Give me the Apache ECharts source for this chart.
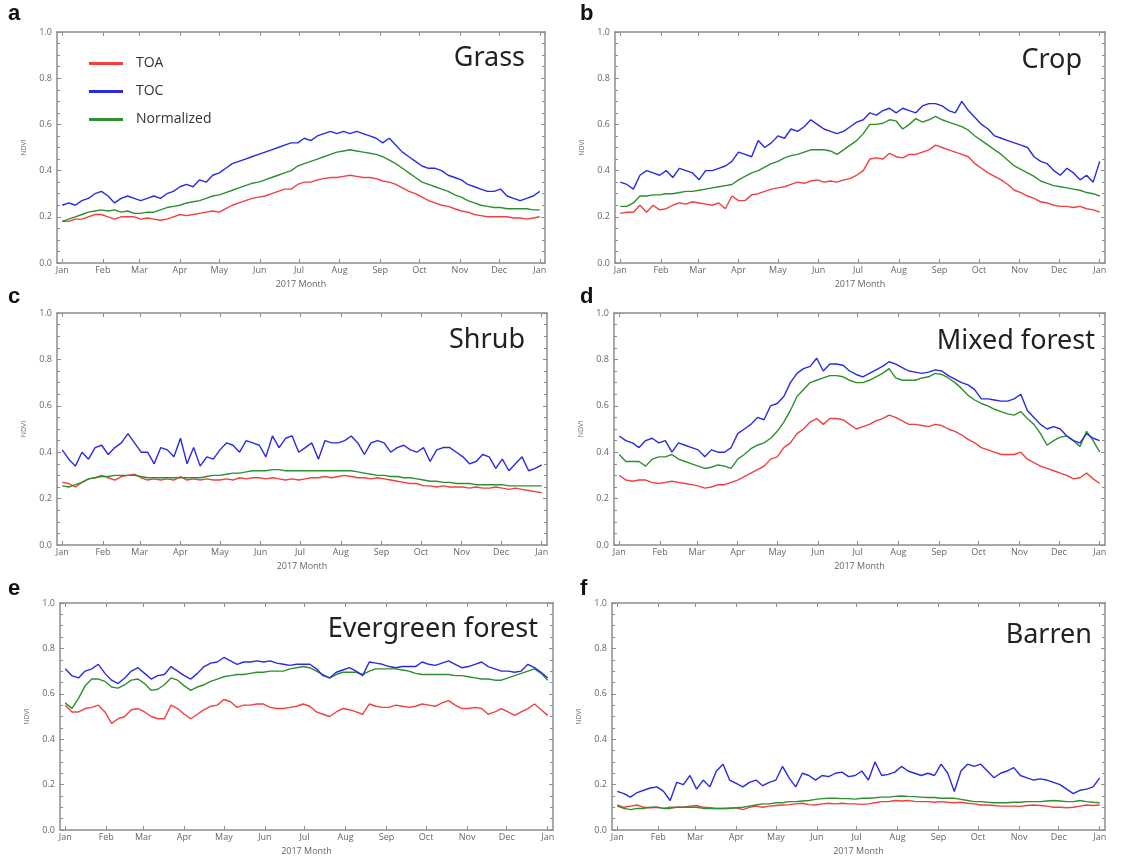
<!DOCTYPE html>
<html lang="en" style="height: 100%">
<head>
  <meta charset="utf-8">
</head>
<body style="height: 100%; margin: 0; background: #fff">
  <div id="container" style="width: 1122px; height: 857px"></div>

  <script type="text/javascript" src="https://cdn.jsdelivr.net/npm/echarts@6/dist/echarts.min.js"></script>

  <script type="text/javascript">
    var dom = document.getElementById('container');
    var myChart = echarts.init(dom, null, { renderer: 'canvas' });

    // month ticks (day of year) and their labels
    const monthDays = [0, 31, 59, 90, 120, 151, 181, 212, 243, 273, 304, 334, 365];
    const monthLabels = ['Jan', 'Feb', 'Mar', 'Apr', 'May', 'Jun', 'Jul', 'Aug', 'Sep', 'Oct', 'Nov', 'Dec', 'Jan'];
    const yTicks = [0.0, 0.2, 0.4, 0.6, 0.8, 1.0];
    const xName = '2017 Month';
    const yName = 'NDVI';
    const seriesNames = ['TOA', 'TOC', 'Normalized'];
    const panelLetters = ['a', 'b', 'c', 'd', 'e', 'f'];
    const panelTitles = ['Grass', 'Crop', 'Shrub', 'Mixed forest', 'Evergreen forest', 'Barren'];

    // sample days: every 5 days through the year
    const days = Array.from({ length: 74 }, (_, i) => i * 5);

    const grassToa = [0.18,0.18,0.19,0.19,0.20,0.21,0.21,0.20,0.19,0.20,0.20,0.20,0.19,0.195,0.19,0.185,0.19,0.20,0.21,0.205,0.21,0.215,0.22,0.225,0.22,0.235,0.25,0.26,0.27,0.28,0.285,0.29,0.30,0.31,0.32,0.32,0.34,0.35,0.35,0.36,0.365,0.37,0.37,0.375,0.38,0.375,0.37,0.37,0.365,0.355,0.35,0.34,0.325,0.31,0.30,0.285,0.27,0.26,0.25,0.245,0.235,0.225,0.22,0.21,0.205,0.20,0.20,0.20,0.20,0.195,0.195,0.19,0.195,0.20];
    const grassToc = [0.25,0.26,0.25,0.27,0.28,0.30,0.31,0.29,0.26,0.28,0.29,0.28,0.27,0.28,0.29,0.28,0.30,0.31,0.33,0.34,0.33,0.36,0.35,0.38,0.39,0.41,0.43,0.44,0.45,0.46,0.47,0.48,0.49,0.50,0.51,0.52,0.52,0.54,0.53,0.55,0.56,0.57,0.56,0.57,0.56,0.57,0.56,0.55,0.54,0.52,0.54,0.51,0.48,0.46,0.44,0.42,0.41,0.41,0.40,0.38,0.37,0.36,0.34,0.33,0.32,0.31,0.31,0.32,0.29,0.28,0.27,0.28,0.29,0.31];
    const grassNorm = [0.18,0.19,0.20,0.21,0.22,0.225,0.23,0.225,0.23,0.22,0.225,0.215,0.215,0.22,0.22,0.23,0.24,0.245,0.25,0.26,0.265,0.27,0.28,0.29,0.295,0.305,0.315,0.325,0.335,0.345,0.35,0.36,0.37,0.38,0.39,0.40,0.42,0.43,0.44,0.45,0.46,0.47,0.48,0.485,0.49,0.485,0.48,0.475,0.47,0.46,0.445,0.43,0.41,0.39,0.37,0.35,0.34,0.33,0.32,0.31,0.295,0.285,0.27,0.26,0.25,0.245,0.24,0.24,0.235,0.235,0.235,0.235,0.23,0.23];

    const cropToa = [0.215,0.22,0.22,0.25,0.22,0.25,0.23,0.235,0.25,0.26,0.255,0.265,0.26,0.255,0.25,0.26,0.235,0.29,0.27,0.27,0.295,0.30,0.31,0.32,0.325,0.33,0.34,0.35,0.345,0.355,0.36,0.35,0.355,0.35,0.36,0.365,0.38,0.40,0.45,0.455,0.45,0.475,0.46,0.455,0.47,0.47,0.48,0.49,0.51,0.50,0.49,0.48,0.47,0.46,0.43,0.41,0.39,0.375,0.36,0.34,0.315,0.305,0.29,0.28,0.265,0.26,0.25,0.245,0.245,0.24,0.245,0.235,0.23,0.22];
    const cropToc = [0.35,0.34,0.32,0.38,0.40,0.39,0.38,0.40,0.37,0.41,0.40,0.39,0.36,0.40,0.40,0.41,0.42,0.44,0.48,0.47,0.46,0.53,0.50,0.52,0.55,0.54,0.58,0.57,0.59,0.62,0.60,0.58,0.57,0.56,0.57,0.59,0.61,0.62,0.65,0.64,0.66,0.67,0.65,0.67,0.66,0.65,0.68,0.69,0.69,0.68,0.66,0.65,0.70,0.66,0.63,0.60,0.58,0.55,0.54,0.53,0.52,0.51,0.50,0.46,0.44,0.43,0.40,0.38,0.41,0.39,0.36,0.38,0.35,0.44];
    const cropNorm = [0.245,0.245,0.26,0.29,0.29,0.295,0.295,0.30,0.30,0.305,0.31,0.31,0.315,0.32,0.325,0.33,0.335,0.34,0.36,0.375,0.39,0.40,0.415,0.43,0.44,0.455,0.465,0.47,0.48,0.49,0.49,0.49,0.485,0.47,0.49,0.51,0.53,0.56,0.60,0.60,0.605,0.62,0.615,0.58,0.60,0.625,0.61,0.62,0.635,0.62,0.61,0.60,0.59,0.575,0.55,0.53,0.51,0.49,0.47,0.445,0.42,0.405,0.39,0.375,0.355,0.345,0.335,0.33,0.325,0.32,0.315,0.305,0.30,0.29];

    const shrubToa = [0.27,0.265,0.25,0.27,0.285,0.29,0.30,0.29,0.28,0.295,0.30,0.305,0.29,0.28,0.285,0.28,0.285,0.28,0.295,0.28,0.285,0.28,0.285,0.28,0.28,0.285,0.28,0.29,0.285,0.29,0.29,0.285,0.29,0.285,0.28,0.285,0.28,0.285,0.29,0.29,0.295,0.29,0.295,0.30,0.295,0.29,0.29,0.285,0.29,0.285,0.28,0.275,0.27,0.265,0.265,0.255,0.255,0.25,0.255,0.25,0.25,0.25,0.245,0.25,0.245,0.245,0.25,0.245,0.24,0.245,0.24,0.235,0.23,0.225];
    const shrubToc = [0.41,0.37,0.34,0.40,0.37,0.42,0.43,0.39,0.42,0.44,0.48,0.44,0.40,0.40,0.35,0.42,0.41,0.38,0.46,0.35,0.42,0.34,0.38,0.37,0.41,0.44,0.43,0.40,0.45,0.44,0.43,0.38,0.47,0.42,0.46,0.47,0.40,0.42,0.44,0.37,0.45,0.44,0.44,0.45,0.47,0.44,0.39,0.44,0.45,0.44,0.40,0.42,0.43,0.41,0.40,0.42,0.36,0.41,0.42,0.42,0.40,0.38,0.35,0.36,0.39,0.38,0.33,0.37,0.32,0.35,0.38,0.32,0.33,0.345];
    const shrubNorm = [0.255,0.25,0.26,0.27,0.285,0.29,0.295,0.295,0.30,0.30,0.30,0.30,0.295,0.29,0.29,0.29,0.29,0.29,0.29,0.29,0.29,0.29,0.295,0.30,0.30,0.305,0.31,0.31,0.315,0.32,0.32,0.32,0.325,0.325,0.32,0.32,0.32,0.32,0.32,0.32,0.32,0.32,0.32,0.32,0.32,0.315,0.31,0.305,0.30,0.30,0.295,0.295,0.29,0.29,0.285,0.28,0.275,0.275,0.27,0.27,0.265,0.265,0.265,0.26,0.26,0.26,0.26,0.26,0.255,0.255,0.255,0.255,0.255,0.255];

    const mixedToa = [0.30,0.28,0.275,0.28,0.28,0.27,0.265,0.27,0.275,0.27,0.265,0.26,0.255,0.245,0.25,0.26,0.26,0.27,0.28,0.295,0.31,0.325,0.34,0.37,0.38,0.42,0.44,0.48,0.50,0.53,0.545,0.52,0.545,0.545,0.54,0.52,0.50,0.51,0.52,0.535,0.545,0.56,0.55,0.535,0.52,0.52,0.515,0.51,0.52,0.515,0.50,0.49,0.475,0.455,0.44,0.42,0.41,0.40,0.39,0.39,0.39,0.40,0.37,0.355,0.34,0.33,0.32,0.31,0.30,0.285,0.29,0.31,0.285,0.265];
    const mixedToc = [0.47,0.45,0.44,0.42,0.45,0.46,0.44,0.45,0.40,0.44,0.43,0.42,0.41,0.38,0.41,0.40,0.40,0.42,0.48,0.50,0.52,0.55,0.54,0.60,0.61,0.64,0.70,0.74,0.76,0.77,0.805,0.75,0.78,0.78,0.775,0.75,0.735,0.725,0.74,0.755,0.77,0.79,0.78,0.765,0.75,0.745,0.74,0.745,0.755,0.75,0.73,0.715,0.70,0.69,0.67,0.63,0.63,0.625,0.62,0.62,0.63,0.65,0.58,0.55,0.52,0.50,0.51,0.50,0.47,0.45,0.44,0.48,0.46,0.45];
    const mixedNorm = [0.39,0.36,0.36,0.36,0.34,0.37,0.38,0.38,0.39,0.37,0.36,0.35,0.34,0.33,0.335,0.345,0.34,0.33,0.37,0.39,0.415,0.43,0.44,0.46,0.49,0.53,0.58,0.64,0.67,0.70,0.71,0.72,0.73,0.73,0.725,0.71,0.70,0.70,0.71,0.725,0.74,0.76,0.72,0.71,0.71,0.71,0.72,0.725,0.74,0.735,0.72,0.70,0.675,0.645,0.625,0.61,0.60,0.585,0.575,0.565,0.56,0.575,0.545,0.52,0.48,0.43,0.45,0.465,0.47,0.45,0.425,0.49,0.45,0.40];

    const everToa = [0.55,0.52,0.52,0.535,0.54,0.55,0.52,0.47,0.49,0.50,0.53,0.535,0.52,0.50,0.49,0.49,0.55,0.535,0.51,0.49,0.51,0.53,0.545,0.55,0.575,0.565,0.54,0.55,0.55,0.555,0.555,0.54,0.535,0.535,0.54,0.545,0.555,0.545,0.52,0.51,0.50,0.52,0.535,0.53,0.52,0.51,0.555,0.545,0.54,0.54,0.55,0.545,0.54,0.545,0.555,0.55,0.545,0.56,0.57,0.55,0.535,0.535,0.54,0.535,0.51,0.52,0.535,0.52,0.505,0.52,0.535,0.555,0.53,0.505];
    const everToc = [0.71,0.68,0.67,0.70,0.71,0.73,0.69,0.66,0.645,0.67,0.70,0.715,0.69,0.665,0.68,0.685,0.72,0.70,0.68,0.665,0.69,0.72,0.735,0.74,0.76,0.745,0.73,0.74,0.74,0.745,0.74,0.745,0.735,0.73,0.725,0.73,0.73,0.73,0.71,0.68,0.67,0.695,0.705,0.715,0.70,0.68,0.74,0.735,0.73,0.72,0.715,0.72,0.72,0.72,0.74,0.73,0.725,0.735,0.745,0.73,0.715,0.72,0.73,0.74,0.72,0.71,0.70,0.70,0.695,0.70,0.73,0.715,0.695,0.67];
    const everNorm = [0.56,0.535,0.58,0.635,0.665,0.665,0.655,0.63,0.625,0.64,0.66,0.665,0.645,0.615,0.62,0.64,0.67,0.66,0.635,0.615,0.63,0.64,0.655,0.665,0.675,0.68,0.685,0.685,0.69,0.695,0.695,0.70,0.70,0.70,0.71,0.715,0.72,0.715,0.70,0.685,0.67,0.685,0.695,0.695,0.695,0.685,0.70,0.71,0.71,0.71,0.71,0.705,0.70,0.69,0.685,0.685,0.685,0.685,0.685,0.68,0.68,0.675,0.67,0.665,0.665,0.66,0.66,0.67,0.68,0.69,0.70,0.71,0.69,0.66];

    const barrenToa = [0.11,0.10,0.105,0.11,0.10,0.098,0.10,0.095,0.10,0.10,0.10,0.105,0.108,0.10,0.098,0.095,0.095,0.097,0.098,0.09,0.10,0.105,0.10,0.105,0.108,0.11,0.112,0.115,0.118,0.112,0.11,0.115,0.118,0.115,0.118,0.115,0.115,0.113,0.115,0.12,0.125,0.125,0.13,0.128,0.13,0.126,0.125,0.125,0.122,0.125,0.122,0.12,0.122,0.118,0.115,0.11,0.11,0.108,0.105,0.105,0.105,0.104,0.108,0.11,0.108,0.105,0.10,0.10,0.098,0.10,0.105,0.11,0.108,0.11];
    const barrenToc = [0.17,0.16,0.145,0.165,0.175,0.185,0.19,0.17,0.13,0.21,0.20,0.24,0.18,0.22,0.19,0.26,0.29,0.22,0.205,0.19,0.21,0.22,0.195,0.21,0.22,0.28,0.23,0.19,0.25,0.24,0.22,0.24,0.235,0.25,0.255,0.235,0.24,0.26,0.22,0.30,0.24,0.245,0.255,0.28,0.26,0.25,0.24,0.25,0.24,0.29,0.25,0.17,0.26,0.29,0.28,0.29,0.26,0.23,0.25,0.26,0.275,0.24,0.23,0.22,0.225,0.22,0.21,0.20,0.18,0.16,0.175,0.18,0.19,0.23];
    const barrenNorm = [0.105,0.095,0.09,0.095,0.095,0.10,0.10,0.095,0.095,0.10,0.10,0.10,0.10,0.095,0.095,0.095,0.095,0.095,0.098,0.10,0.105,0.11,0.115,0.115,0.12,0.12,0.125,0.125,0.128,0.13,0.135,0.138,0.14,0.14,0.138,0.138,0.136,0.14,0.14,0.142,0.145,0.145,0.148,0.15,0.148,0.147,0.145,0.143,0.143,0.14,0.14,0.14,0.135,0.13,0.125,0.125,0.122,0.12,0.12,0.12,0.122,0.122,0.125,0.125,0.125,0.128,0.13,0.128,0.125,0.125,0.13,0.125,0.122,0.12];

    const panelData = [
      [grassToa, grassToc, grassNorm],
      [cropToa, cropToc, cropNorm],
      [shrubToa, shrubToc, shrubNorm],
      [mixedToa, mixedToc, mixedNorm],
      [everToa, everToc, everNorm],
      [barrenToa, barrenToc, barrenNorm]
    ];

    // layout of the six plot boxes
    const grids = [
      { left: 57, top: 32, width: 488, height: 231 },
      { left: 615, top: 32, width: 490, height: 231 },
      { left: 57, top: 313, width: 490, height: 232 },
      { left: 614, top: 313, width: 491, height: 232 },
      { left: 60, top: 603, width: 493, height: 230 },
      { left: 612, top: 603, width: 493, height: 230 }
    ];
    const letterPos = [[8, 3], [580, 3], [8, 286], [580, 286], [8, 578], [580, 578]];
    const titleRight = [[525, 58], [1082, 60], [525, 340], [1095, 341], [538, 629], [1092, 635]];

    const colors = ['#f04040', '#2a2ae0', '#2f8f2f'];
    const axisGray = '#8c8c8c';
    const labelGray = '#666';

    const xAxes = [];
    const yAxes = [];
    const series = [];
    const graphics = [];

    grids.forEach(function (g, p) {
      const xBase = {
        gridIndex: p,
        type: 'value',
        min: -4,
        max: 369,
        splitLine: { show: false },
        axisLine: { onZero: false, lineStyle: { color: axisGray, width: 1.5 } },
        axisTick: { inside: true, length: 4, customValues: monthDays, lineStyle: { color: axisGray } }
      };
      xAxes.push(Object.assign({}, xBase, {
        position: 'bottom',
        name: xName,
        nameLocation: 'middle',
        nameGap: 17,
        nameTextStyle: { fontSize: 9, color: labelGray, fontFamily: 'Open Sans' },
        axisLabel: {
          customValues: monthDays,
          fontSize: 9,
          margin: 3,
          color: labelGray,
          fontFamily: 'Open Sans',
          formatter: function (v) { return monthLabels[monthDays.indexOf(v)]; }
        }
      }));
      xAxes.push(Object.assign({}, xBase, { position: 'top', axisLabel: { show: false } }));

      const yBase = {
        gridIndex: p,
        type: 'value',
        min: 0,
        max: 1,
        interval: 0.2,
        splitLine: { show: false },
        axisLine: { onZero: false, lineStyle: { color: axisGray, width: 1.5 } },
        axisTick: { inside: true, length: 4, lineStyle: { color: axisGray } },
        minorTick: { show: true, splitNumber: 4, length: 3, lineStyle: { color: axisGray } }
      };
      yAxes.push(Object.assign({}, yBase, {
        position: 'left',
        name: yName,
        nameLocation: 'middle',
        nameGap: 30,
        nameTextStyle: { fontSize: 7, color: labelGray, fontFamily: 'Open Sans' },
        axisLabel: {
          fontSize: 9,
          margin: 5,
          color: labelGray,
          fontFamily: 'Open Sans',
          formatter: function (v) { return v.toFixed(1); }
        }
      }));
      yAxes.push(Object.assign({}, yBase, { position: 'right', axisLabel: { show: false } }));

      // draw order: TOA, Normalized, TOC
      [0, 2, 1].forEach(function (k) {
        series.push({
          name: seriesNames[k],
          type: 'line',
          xAxisIndex: 2 * p,
          yAxisIndex: 2 * p,
          showSymbol: false,
          symbol: 'none',
          silent: true,
          lineStyle: { color: colors[k], width: 1.4 },
          itemStyle: { color: colors[k] },
          data: days.map(function (d, i) { return [d, panelData[p][k][i]]; })
        });
      });

      graphics.push({
        type: 'text',
        left: letterPos[p][0],
        top: letterPos[p][1],
        style: { text: panelLetters[p], font: 'bold 22px "Liberation Sans", Arial', fill: '#111' }
      });
      graphics.push({
        type: 'text',
        x: titleRight[p][0],
        y: titleRight[p][1],
        style: {
          text: panelTitles[p],
          font: '27px "Noto Sans", "Open Sans"',
          fill: '#222',
          align: 'right',
          verticalAlign: 'middle'
        }
      });
    });

    var option = {
      animation: false,
      backgroundColor: '#fff',
      grid: grids,
      xAxis: xAxes,
      yAxis: yAxes,
      legend: {
        data: seriesNames,
        orient: 'vertical',
        left: 84,
        top: 50,
        icon: 'rect',
        itemWidth: 34,
        itemHeight: 3,
        itemGap: 11,
        selectedMode: false,
        textStyle: { fontSize: 14, color: '#333', lineHeight: 17, padding: [0, 0, 0, 8], fontFamily: 'Open Sans' }
      },
      series: series,
      graphic: { elements: graphics }
    };

    myChart.setOption(option);
    window.addEventListener('resize', myChart.resize);
  </script>
</body>
</html>
